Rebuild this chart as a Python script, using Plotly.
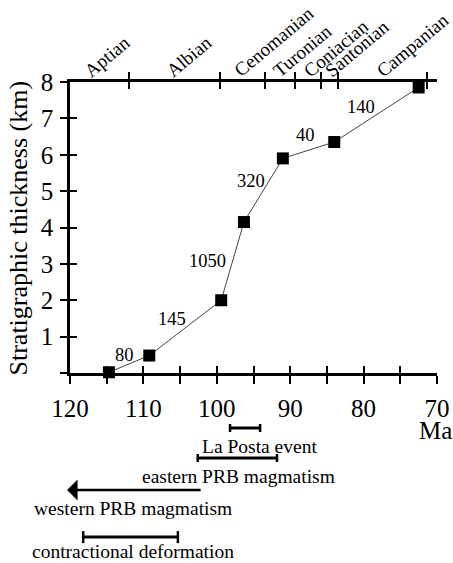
import plotly.graph_objects as go

# ---- data ----
age_ma = [114.7, 109.2, 99.4, 96.3, 91.0, 84.0, 72.5]
thickness_km = [0.02, 0.48, 2.0, 4.15, 5.9, 6.35, 7.85]
rate_labels = ["80", "145", "1050", "320", "40", "140"]

stage_names = ["Aptian", "Albian", "Cenomanian", "Turonian", "Coniacian", "Santonian", "Campanian"]
stage_bounds = [112, 99.6, 93.5, 89.3, 85.8, 83.5, 71.3]
stage_label_age = [114.96, 103.8, 92.2, 88.3, 83.8, 80.9, 73.4]

x_ticks = list(range(120, 69, -5))
x_ticktext = [str(v) if v % 10 == 0 else "" for v in x_ticks]
y_ticks = list(range(0, 9))
y_ticktext = [str(v) if v > 0 else "" for v in y_ticks]

event_names = ["La Posta event", "eastern PRB magmatism", "western PRB magmatism", "contractional deformation"]
event_start = [98.2, 102.6, 102.0, 118.2]
event_end = [94.1, 91.8, 120.4, 105.3]
event_is_arrow = [False, False, True, False]

# ---- layout helpers (positions / styles) ----
FONT = "Liberation Serif"
event_bar_y = [-0.189, -0.292, -0.402, -0.564]
event_text_y = [-0.251, -0.354, -0.464, -0.615]
event_text_x = [94.2, 97.1, 111.4, 111.4]
event_cap_half = [4, 4, 0, 6]
rate_shift = [(-5, 9), (-13.5, 9), (-25, 0), (-12.5, 9), (-3.5, 15), (-15.5, 7.5)]

fig = go.Figure()

fig.add_trace(go.Scatter(
    x=age_ma, y=thickness_km, mode="lines+markers",
    line=dict(color="#444444", width=1),
    marker=dict(symbol="square", size=12, color="black"),
    cliponaxis=False, showlegend=False, hoverinfo="skip"))

# empty traces to attach overlay axes
for xa in ["x2", "x3", "x4"]:
    fig.add_trace(go.Scatter(x=[None], y=[None], xaxis=xa, yaxis="y", showlegend=False, hoverinfo="skip"))
fig.add_trace(go.Scatter(x=[None], y=[None], xaxis="x", yaxis="y2", showlegend=False, hoverinfo="skip"))

annotations = []
# rate labels at segment midpoints
for i, lab in enumerate(rate_labels):
    mx = (age_ma[i] + age_ma[i + 1]) / 2
    my = (thickness_km[i] + thickness_km[i + 1]) / 2
    annotations.append(dict(x=mx, y=my, xref="x", yref="y", text=lab, showarrow=False,
                            xshift=rate_shift[i][0], yshift=rate_shift[i][1],
                            font=dict(family=FONT, size=18.5, color="black")))

# stage names
for name, ax_ in zip(stage_names, stage_label_age):
    annotations.append(dict(x=ax_, y=8, xref="x", yref="y", text=name, showarrow=False,
                            textangle=-40, xanchor="center", yanchor="bottom", yshift=-2,
                            font=dict(family=FONT, size=19, color="black")))

# y-axis title
annotations.append(dict(x=-0.139, y=0.5, xref="paper", yref="paper",
                        text="Stratigraphic thickness (km)", showarrow=False, textangle=-90,
                        xanchor="center", yanchor="middle",
                        font=dict(family=FONT, size=26, color="black")))
# Ma label
annotations.append(dict(x=70, y=-0.199, xref="x", yref="paper", text="Ma", showarrow=False,
                        xanchor="center", yanchor="middle", xshift=-2,
                        font=dict(family=FONT, size=25, color="black")))

shapes = []
for i, name in enumerate(event_names):
    annotations.append(dict(x=event_text_x[i], y=event_text_y[i], xref="x", yref="paper",
                            text=name, showarrow=False, xanchor="center", yanchor="middle",
                            font=dict(family=FONT, size=19.5, color="black")))
    if event_is_arrow[i]:
        annotations.append(dict(x=event_end[i], y=event_bar_y[i], xref="x", yref="paper",
                                ax=event_start[i], ay=0, axref="x", ayref="pixel",
                                text="", showarrow=True, arrowhead=1, arrowsize=1.3,
                                arrowwidth=2.7, arrowcolor="black"))
    else:
        shapes.append(dict(type="line", xref="x", yref="paper",
                           x0=event_start[i], x1=event_end[i],
                           y0=event_bar_y[i], y1=event_bar_y[i],
                           line=dict(color="black", width=3)))
        for xe in (event_start[i], event_end[i]):
            shapes.append(dict(type="line", xref="x", yref="paper", ysizemode="pixel",
                               yanchor=event_bar_y[i], x0=xe, x1=xe,
                               y0=-event_cap_half[i], y1=event_cap_half[i],
                               line=dict(color="black", width=2.5)))

tickfont = dict(family=FONT, size=25, color="black")
common_x = dict(range=[120, 70], showgrid=False, zeroline=False, automargin=False)

fig.update_layout(
    width=453, height=563,
    margin=dict(l=70, r=16, t=82, b=190, autoexpand=False),
    plot_bgcolor="white", paper_bgcolor="white",
    showlegend=False,
    xaxis=dict(**common_x, tickmode="array", tickvals=x_ticks, ticktext=x_ticktext,
               ticks="outside", ticklen=8, tickwidth=2, tickcolor="black",
               showline=True, linewidth=2.5, linecolor="black", tickfont=tickfont,
               ticklabelstandoff=3),
    xaxis2=dict(**common_x, overlaying="x", side="bottom", anchor="y", tickmode="array",
                tickvals=x_ticks, ticks="inside", ticklen=7, tickwidth=2, tickcolor="black",
                showticklabels=False, showline=False),
    xaxis3=dict(**common_x, overlaying="x", side="top", anchor="y", tickmode="array",
                tickvals=stage_bounds, ticks="outside", ticklen=7, tickwidth=2, tickcolor="black",
                showticklabels=False, showline=True, linewidth=2.5, linecolor="black"),
    xaxis4=dict(**common_x, overlaying="x", side="top", anchor="y", tickmode="array",
                tickvals=stage_bounds, ticks="inside", ticklen=7, tickwidth=2, tickcolor="black",
                showticklabels=False, showline=False),
    yaxis=dict(range=[0, 8], showgrid=False, zeroline=False, automargin=False, tickmode="array",
               tickvals=y_ticks, ticktext=y_ticktext, ticks="outside", ticklen=7, tickwidth=2,
               tickcolor="black", showline=True, linewidth=2.5, linecolor="black",
               tickfont=tickfont, ticklabelstandoff=2),
    yaxis2=dict(range=[0, 8], showgrid=False, zeroline=False, automargin=False, overlaying="y",
                side="left", anchor="x", tickmode="array", tickvals=y_ticks, ticks="inside",
                ticklen=7, tickwidth=2, tickcolor="black", showticklabels=False, showline=False),
    annotations=annotations,
    shapes=shapes,
)

fig.write_html("out.html", config={"displayModeBar": False},
               post_script="document.body.style.margin='0px';")
